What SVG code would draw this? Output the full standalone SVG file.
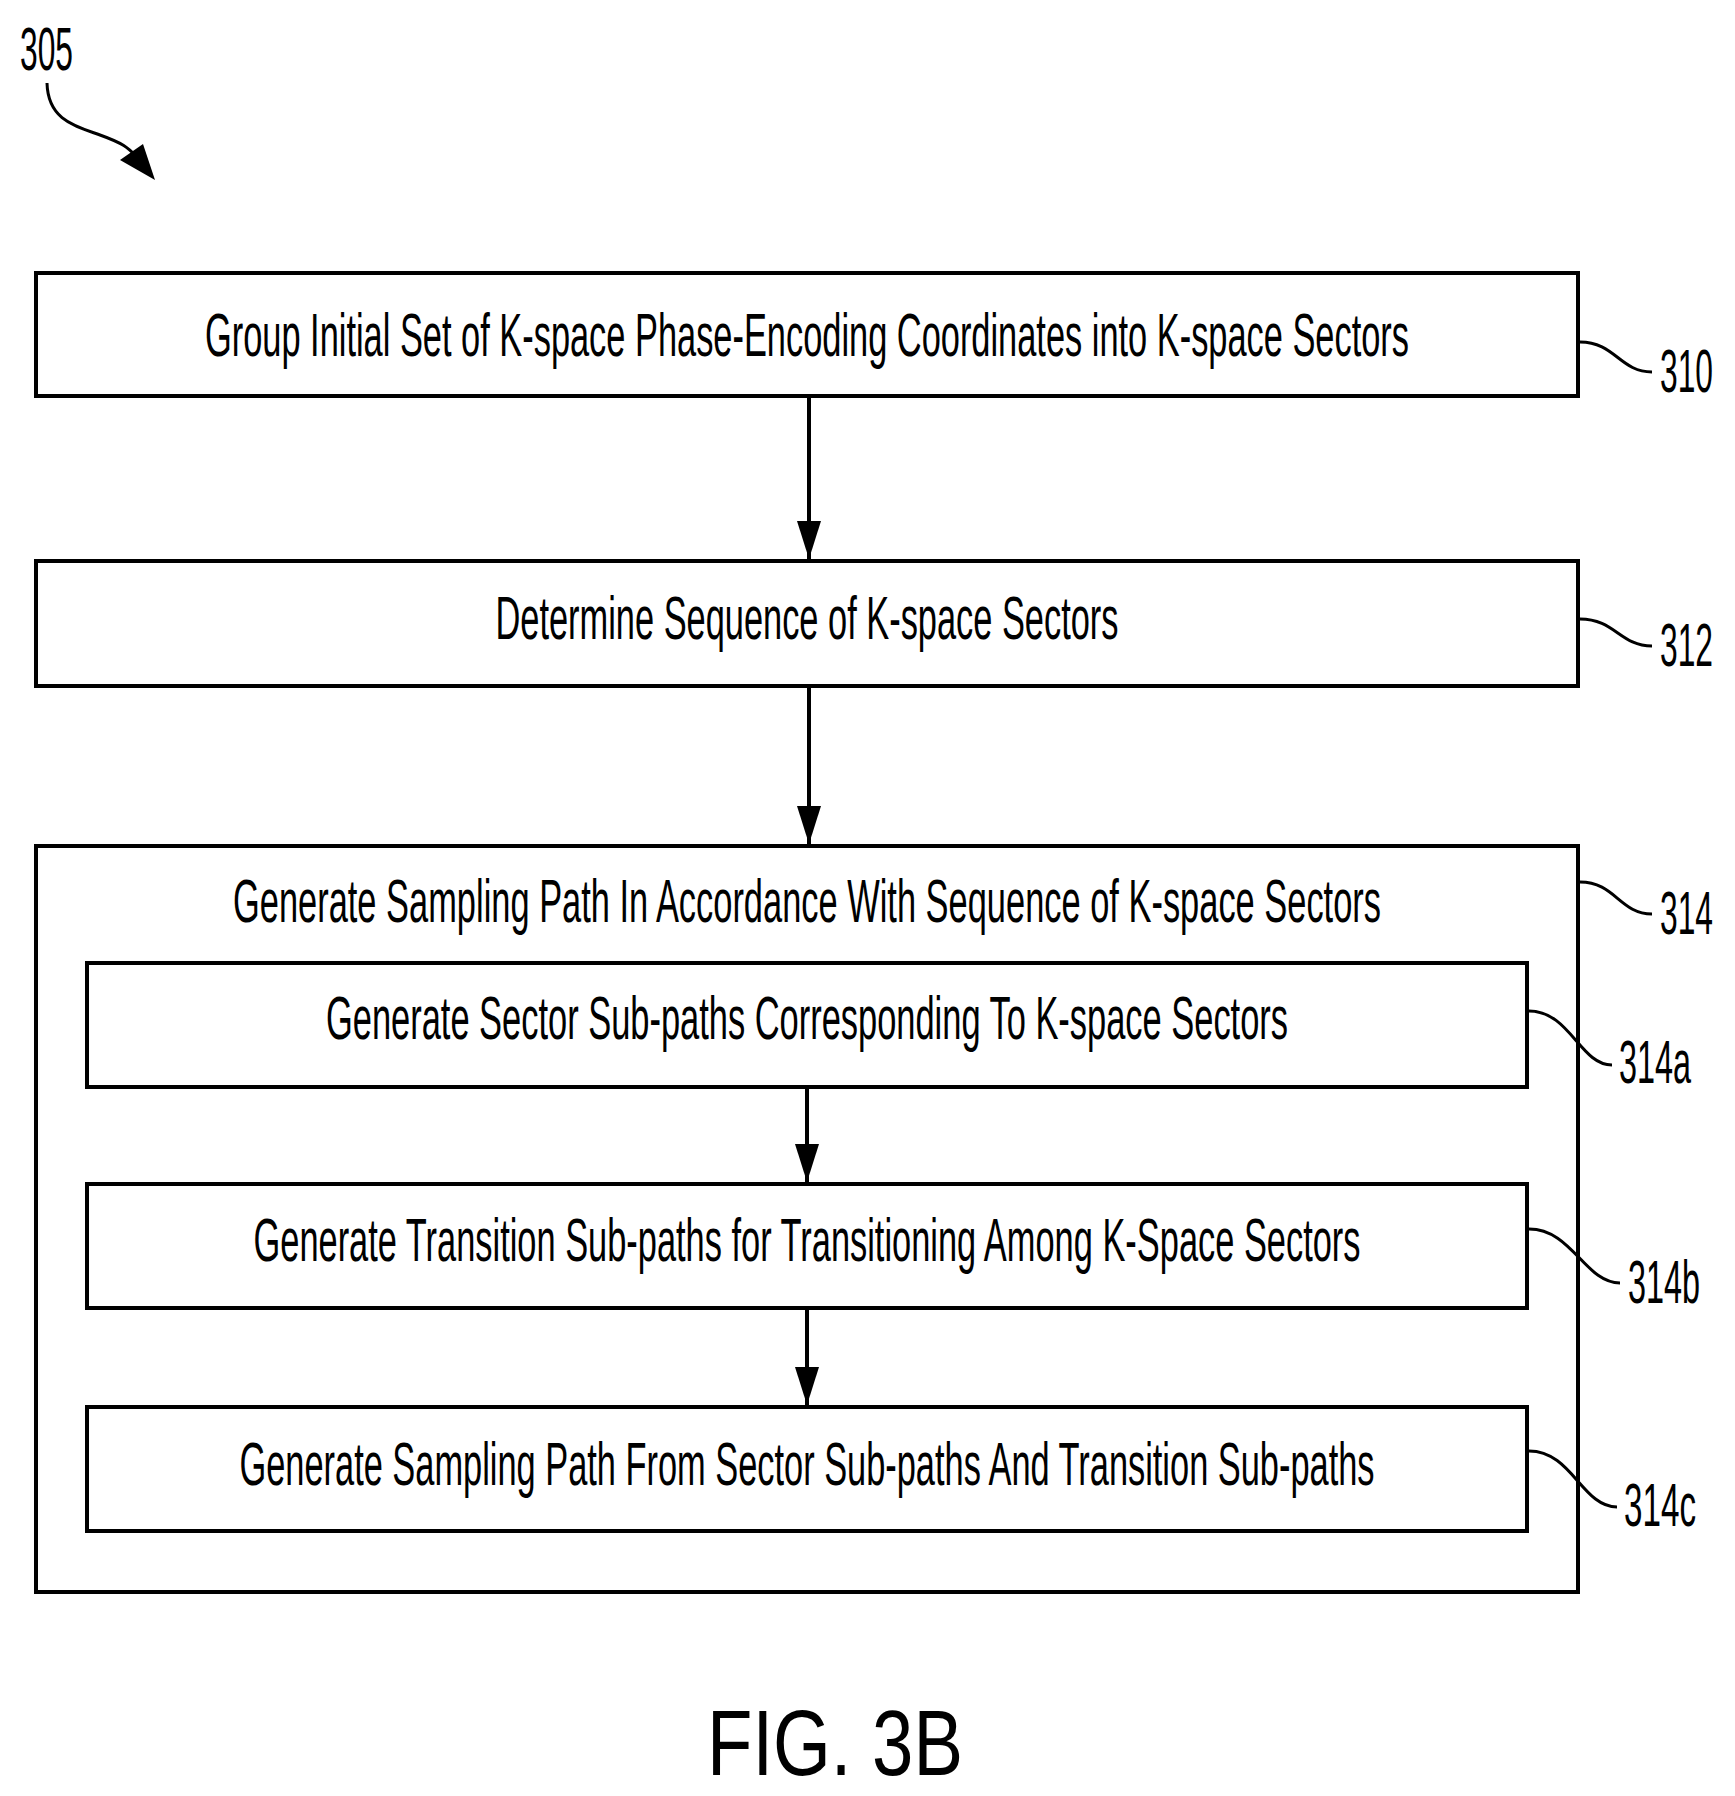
<svg xmlns="http://www.w3.org/2000/svg" width="1735" height="1796" viewBox="0 0 1735 1796">
<style>
.box{fill:none;stroke:#000;stroke-width:4}
.t{font-family:"Liberation Sans",Arial,sans-serif;font-size:62px;fill:#000;text-anchor:middle}
.lbl{font-family:"Liberation Sans",Arial,sans-serif;font-size:62px;fill:#000}
.ld{fill:none;stroke:#000;stroke-width:3}
.con{stroke:#000;stroke-width:4;fill:none}
</style>
<defs>
<marker id="ah" markerUnits="userSpaceOnUse" markerWidth="40" markerHeight="24" refX="38" refY="12" orient="auto" viewBox="0 0 40 24">
<path d="M0,0 L38,12 L0,24 Z" fill="#000"/>
</marker>
</defs>
<rect width="1735" height="1796" fill="#fff"/>
<g id="ref305">
<text class="lbl" x="20" y="70" textLength="53" lengthAdjust="spacingAndGlyphs">305</text>
<path class="ld" d="M47,83 C48,120 75,126 100,135 S128,148 138,158"/>
<path d="M155,180 L120,160 L143,144 Z" fill="#000"/>
</g>
<g id="n310">
<rect class="box" x="36" y="273" width="1542" height="123"/>
<text class="t" x="807" y="356" textLength="1204" lengthAdjust="spacingAndGlyphs">Group Initial Set of K-space Phase-Encoding Coordinates into K-space Sectors</text>
<path class="ld" d="M1580,342 C1615,342 1620,372 1652,372"/>
<text class="lbl" x="1660" y="392" textLength="53" lengthAdjust="spacingAndGlyphs">310</text>
</g>
<g id="n312">
<rect class="box" x="36" y="561" width="1542" height="125"/>
<text class="t" x="807" y="639" textLength="623" lengthAdjust="spacingAndGlyphs">Determine Sequence of K-space Sectors</text>
<path class="ld" d="M1580,619 C1615,619 1620,646 1652,646"/>
<text class="lbl" x="1660" y="666" textLength="53" lengthAdjust="spacingAndGlyphs">312</text>
</g>
<g id="n314">
<rect class="box" x="36" y="846" width="1542" height="746"/>
<text class="t" x="807" y="922" textLength="1148" lengthAdjust="spacingAndGlyphs">Generate Sampling Path In Accordance With Sequence of K-space Sectors</text>
<path class="ld" d="M1580,882 C1615,882 1620,914 1652,914"/>
<text class="lbl" x="1660" y="934" textLength="53" lengthAdjust="spacingAndGlyphs">314</text>
</g>
<g id="n314a">
<rect class="box" x="87" y="963" width="1440" height="124"/>
<text class="t" x="807" y="1039" textLength="962" lengthAdjust="spacingAndGlyphs">Generate Sector Sub-paths Corresponding To K-space Sectors</text>
<path class="ld" d="M1529,1011 C1570,1011 1580,1065 1612,1065"/>
<text class="lbl" x="1619" y="1083" textLength="72" lengthAdjust="spacingAndGlyphs">314a</text>
</g>
<g id="n314b">
<rect class="box" x="87" y="1184" width="1440" height="124"/>
<text class="t" x="807" y="1261" textLength="1107" lengthAdjust="spacingAndGlyphs">Generate Transition Sub-paths for Transitioning Among K-Space Sectors</text>
<path class="ld" d="M1529,1229 C1572,1229 1585,1283 1620,1283"/>
<text class="lbl" x="1628" y="1303" textLength="72" lengthAdjust="spacingAndGlyphs">314b</text>
</g>
<g id="n314c">
<rect class="box" x="87" y="1407" width="1440" height="124"/>
<text class="t" x="807" y="1485" textLength="1135" lengthAdjust="spacingAndGlyphs">Generate Sampling Path From Sector Sub-paths And Transition Sub-paths</text>
<path class="ld" d="M1529,1451 C1572,1451 1582,1507 1617,1507"/>
<text class="lbl" x="1624" y="1526" textLength="72" lengthAdjust="spacingAndGlyphs">314c</text>
</g>
<g id="connectors">
<line class="con" x1="809" y1="398" x2="809" y2="559" marker-end="url(#ah)"/>
<line class="con" x1="809" y1="688" x2="809" y2="844" marker-end="url(#ah)"/>
<line class="con" x1="807" y1="1089" x2="807" y2="1182" marker-end="url(#ah)"/>
<line class="con" x1="807" y1="1310" x2="807" y2="1405" marker-end="url(#ah)"/>
</g>
<text x="707" y="1775" font-family="'Liberation Sans',Arial,sans-serif" font-size="92" textLength="256" lengthAdjust="spacingAndGlyphs">FIG. 3B</text>
</svg>
